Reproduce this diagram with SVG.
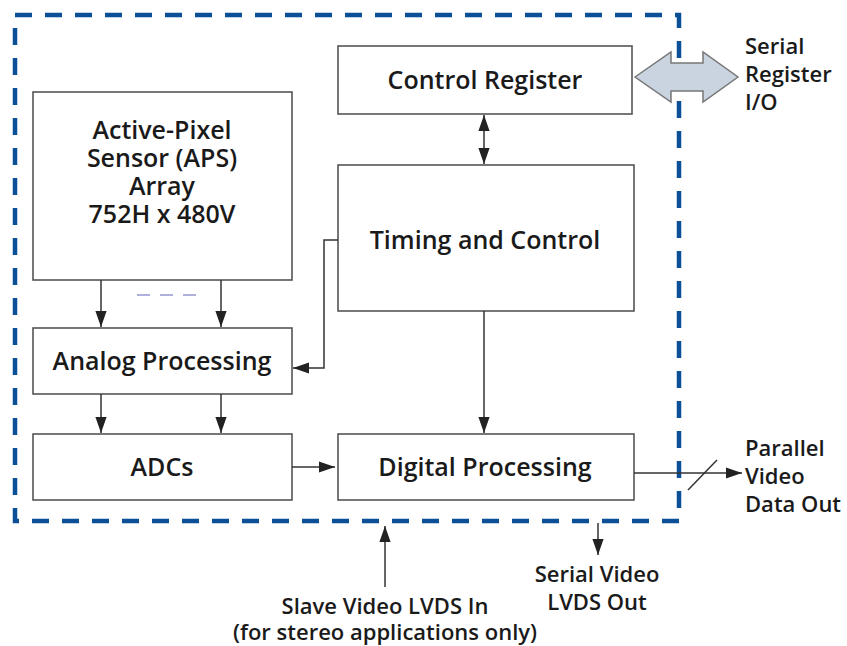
<svg xmlns="http://www.w3.org/2000/svg" width="847" height="646" viewBox="0 0 847 646">
<style>
.box{fill:#fff;stroke:#555;stroke-width:1.6}
.t{font-family:"Open Sans","Liberation Sans",sans-serif;font-size:25px;font-weight:600;fill:#1a1a1a;text-anchor:middle}
.l{font-family:"Open Sans","Liberation Sans",sans-serif;font-size:22px;font-weight:600;fill:#1a1a1a}
.m{text-anchor:middle}
.c{stroke:#333;stroke-width:1.5;fill:none}
</style>
<defs>
<marker id="ah" viewBox="0 0 10 10" refX="10" refY="5" markerWidth="16" markerHeight="16" markerUnits="userSpaceOnUse" orient="auto-start-reverse">
<path d="M0,1.5 L10,5 L0,8.5 z" fill="#222"/>
</marker>
</defs>
<rect x="15" y="15" width="664" height="506" fill="none" stroke="#0b4f96" stroke-width="4.5" stroke-dasharray="17 13"/>
<g id="aps"><rect class="box" x="33" y="92" width="259" height="188"/>
<text class="t" x="162" y="139"><tspan x="162">Active-Pixel</tspan><tspan x="162" dy="28">Sensor (APS)</tspan><tspan x="162" dy="28">Array</tspan><tspan x="162" dy="28">752H x 480V</tspan></text></g>
<g id="analog"><rect class="box" x="33" y="328" width="259" height="66"/><text class="t" x="162" y="370">Analog Processing</text></g>
<g id="adcs"><rect class="box" x="33" y="434" width="259" height="66"/><text class="t" x="162" y="476">ADCs</text></g>
<g id="ctrl"><rect class="box" x="338" y="46" width="294" height="68"/><text class="t" x="485" y="89">Control Register</text></g>
<g id="timing"><rect class="box" x="338" y="165" width="296" height="146"/><text class="t" x="485" y="249">Timing and Control</text></g>
<g id="digital"><rect class="box" x="338" y="434" width="296" height="66"/><text class="t" x="485" y="476">Digital Processing</text></g>
<g id="connectors">
<line class="c" x1="101" y1="280" x2="101" y2="327" marker-end="url(#ah)"/>
<line class="c" x1="221" y1="280" x2="221" y2="327" marker-end="url(#ah)"/>
<line x1="137" y1="295" x2="198" y2="295" stroke="#b0b0dc" stroke-width="2" stroke-dasharray="13 10"/>
<line class="c" x1="101" y1="394" x2="101" y2="433" marker-end="url(#ah)"/>
<line class="c" x1="221" y1="394" x2="221" y2="433" marker-end="url(#ah)"/>
<line class="c" x1="292" y1="467" x2="335" y2="467" marker-end="url(#ah)"/>
<polyline class="c" points="338,240 324,240 324,368 293,368" marker-end="url(#ah)"/>
<line class="c" x1="484" y1="115" x2="484" y2="164" marker-start="url(#ah)" marker-end="url(#ah)"/>
<line class="c" x1="484" y1="311" x2="484" y2="433" marker-end="url(#ah)"/>
<path d="M635,77 L671,52 L671,63 L703,63 L703,52 L738,77 L703,102 L703,91 L671,91 L671,102 Z" fill="#c9d4e0" stroke="#777" stroke-width="1.5"/>
<line class="c" x1="634" y1="473" x2="742" y2="473" marker-end="url(#ah)"/>
<line class="c" x1="688" y1="490" x2="717" y2="460"/>
<line class="c" x1="385" y1="587" x2="385" y2="526" marker-end="url(#ah)"/>
<line class="c" x1="598" y1="523" x2="598" y2="555" marker-end="url(#ah)"/>
</g>
<text class="l" x="745" y="54"><tspan x="745">Serial</tspan><tspan x="745" dy="28">Register</tspan><tspan x="745" dy="28">I/O</tspan></text>
<text class="l" x="745" y="456"><tspan x="745">Parallel</tspan><tspan x="745" dy="28">Video</tspan><tspan x="745" dy="28">Data Out</tspan></text>
<text class="l m" x="597" y="582"><tspan x="597">Serial Video</tspan><tspan x="597" dy="28">LVDS Out</tspan></text>
<text class="l m" x="385" y="614"><tspan x="385">Slave Video LVDS In</tspan><tspan x="385" dy="26">(for stereo applications only)</tspan></text>
</svg>
